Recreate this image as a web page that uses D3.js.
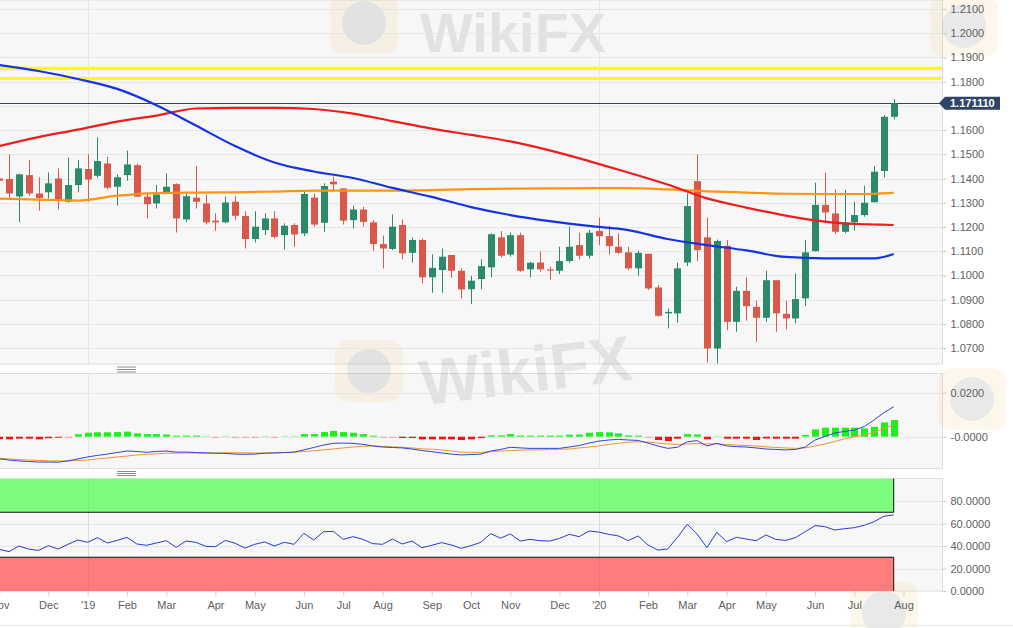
<!DOCTYPE html>
<html><head><meta charset="utf-8">
<script src="https://cdn.jsdelivr.net/npm/d3@7"></script>
<style>
html,body{margin:0;padding:0;background:#fff;}
svg{display:block;font-family:"Liberation Sans",Arial,Helvetica,sans-serif;}
</style></head><body>
<svg id="chart" width="1013" height="628"></svg>
<script>
// ---------------- DATA ----------------
const firstWeek = "2018-10-28";   // weekly candles (week start dates)
const open = [1.1400,1.1398,1.1326,1.1414,1.1338,1.1343,1.1400,1.1304,1.1373,1.1439,
1.1411,1.1462,1.1366,1.1414,1.1455,1.1325,1.1297,1.1343,1.1377,1.1231,
1.1321,1.1297,1.1226,1.1219,1.1304,1.1245,1.1150,1.1187,1.1235,1.1166,
1.1208,1.1173,1.1321,1.1217,1.1387,1.1359,1.1228,1.1272,1.1219,1.1129,
1.1109,1.1208,1.1093,1.1146,1.0992,1.1022,1.1084,1.1019,1.0943,1.0985,
1.1033,1.1157,1.1086,1.1166,1.1025,1.1053,1.1025,1.1019,1.1059,1.1125,
1.1081,1.1183,1.1162,1.1118,1.1095,1.1029,1.1089,1.0950,1.0843,1.0843,
1.1053,1.1389,1.1157,1.0698,1.1122,1.0808,1.0936,1.0870,1.0825,1.0980,
1.0841,1.0822,1.0905,1.1100,1.1291,1.1256,1.1180,1.1219,1.1249,1.1302,
1.1431,1.1655];
const high = [1.1410,1.1500,1.1420,1.1476,1.1405,1.1425,1.1442,1.1487,1.1476,1.1500,
1.1570,1.1490,1.1417,1.1515,1.1462,1.1343,1.1373,1.1421,1.1380,1.1345,
1.1451,1.1334,1.1256,1.1325,1.1327,1.1265,1.1265,1.1256,1.1265,1.1215,
1.1215,1.1345,1.1338,1.1380,1.1407,1.1359,1.1288,1.1283,1.1228,1.1164,
1.1252,1.1231,1.1157,1.1153,1.1087,1.1111,1.1084,1.1029,1.0998,1.1066,
1.1173,1.1183,1.1176,1.1176,1.1056,1.1098,1.1036,1.1118,1.1201,1.1176,
1.1187,1.1239,1.1204,1.1173,1.1118,1.1102,1.1089,1.0960,1.0863,1.1053,
1.1338,1.1500,1.1239,1.1148,1.1146,1.0953,1.0992,1.0895,1.1019,1.0980,
1.0895,1.1008,1.1146,1.1383,1.1424,1.1356,1.1353,1.1304,1.1370,1.1451,
1.1662,1.1727];
const low = [1.1385,1.1321,1.1219,1.1329,1.1267,1.1318,1.1272,1.1300,1.1343,1.1304,
1.1403,1.1355,1.1288,1.1391,1.1325,1.1235,1.1276,1.1338,1.1177,1.1221,
1.1276,1.1210,1.1184,1.1215,1.1228,1.1111,1.1136,1.1166,1.1153,1.1107,
1.1118,1.1162,1.1201,1.1180,1.1352,1.1210,1.1194,1.1201,1.1102,1.1029,
1.1104,1.1066,1.1053,1.0967,1.0928,1.0928,1.0990,1.0905,1.0881,1.0943,
1.0992,1.1073,1.1077,1.1015,1.0992,1.1015,1.0983,1.1005,1.1052,1.1066,
1.1070,1.1125,1.1087,1.1088,1.1022,1.0998,1.0939,1.0829,1.0781,1.0804,
1.1038,1.1059,1.0640,1.0636,1.0774,1.0767,1.0813,1.0726,1.0808,1.0767,
1.0777,1.0802,1.0873,1.1098,1.1215,1.1171,1.1174,1.1185,1.1242,1.1301,
1.1405,1.1644];
const close = [1.1391,1.1338,1.1417,1.1338,1.1319,1.1380,1.1311,1.1373,1.1442,1.1396,
1.1472,1.1362,1.1405,1.1458,1.1325,1.1294,1.1334,1.1366,1.1235,1.1327,
1.1304,1.1219,1.1219,1.1301,1.1246,1.1150,1.1201,1.1235,1.1159,1.1205,
1.1169,1.1336,1.1210,1.1369,1.1376,1.1226,1.1272,1.1221,1.1129,1.1111,
1.1201,1.1091,1.1146,1.0992,1.1031,1.1077,1.1019,1.0942,1.0978,1.1038,
1.1170,1.1081,1.1166,1.1019,1.1052,1.1025,1.1021,1.1059,1.1118,1.1081,
1.1176,1.1162,1.1121,1.1093,1.1029,1.1093,1.0946,1.0833,1.0849,1.1029,
1.1286,1.1104,1.0698,1.1142,1.0808,1.0936,1.0873,1.0825,1.0980,1.0843,
1.0822,1.0902,1.1095,1.1291,1.1260,1.1180,1.1218,1.1249,1.1300,1.1428,
1.1655,1.1711];

// moving averages, read at these candle positions
const maIndex  = [0,4,8,12,16,20,24,28,32,36,40,44,48,52,56,60,64,68,72,76,80,84,88,89,91];
const maBlue   = [1.1869,1.1844,1.1811,1.1770,1.1703,1.1619,1.1534,1.1466,1.1429,1.1402,1.1361,1.1324,1.1282,1.1249,1.1224,1.1204,1.1187,1.1150,1.1125,1.1103,1.1076,1.1070,1.1070,1.1070,1.1088];
const maRed    = [1.1534,1.1571,1.1602,1.1635,1.1660,1.1689,1.1692,1.1692,1.1687,1.1668,1.1637,1.1606,1.1580,1.1553,1.1516,1.1472,1.1425,1.1375,1.1318,1.1280,1.1247,1.1222,1.1211,1.1210,1.1208];
const maOrange = [1.1317,1.1313,1.1309,1.1329,1.1340,1.1342,1.1343,1.1346,1.1350,1.1350,1.1350,1.1352,1.1356,1.1358,1.1359,1.1360,1.1360,1.1355,1.1347,1.1342,1.1337,1.1336,1.1336,1.1337,1.1341];

const resistance = [1.1855, 1.1813];
const lastPrice = 1.171110;

const macd = [-0.0101,-0.0106,-0.0110,-0.0113,-0.0115,-0.0115,-0.0116,-0.0110,-0.0101,-0.0092,
-0.0085,-0.0079,-0.0072,-0.0065,-0.0067,-0.0071,-0.0067,-0.0065,-0.0070,-0.0070,
-0.0072,-0.0074,-0.0075,-0.0076,-0.0079,-0.0080,-0.0079,-0.0075,-0.0074,-0.0072,
-0.0070,-0.0060,-0.0049,-0.0038,-0.0030,-0.0029,-0.0030,-0.0035,-0.0042,-0.0047,
-0.0049,-0.0051,-0.0056,-0.0063,-0.0068,-0.0074,-0.0079,-0.0083,-0.0081,-0.0079,
-0.0065,-0.0058,-0.0048,-0.0051,-0.0053,-0.0053,-0.0053,-0.0053,-0.0047,-0.0040,
-0.0029,-0.0020,-0.0015,-0.0012,-0.0015,-0.0017,-0.0029,-0.0042,-0.0053,-0.0048,
-0.0023,-0.0018,-0.0042,-0.0030,-0.0042,-0.0045,-0.0047,-0.0051,-0.0056,-0.0058,
-0.0060,-0.0058,-0.0047,-0.0015,0.0001,0.0017,0.0024,0.0030,0.0046,0.0076,
0.0109,0.0136];
const signal = [-0.0098,-0.0101,-0.0104,-0.0106,-0.0108,-0.0110,-0.0110,-0.0110,-0.0108,-0.0106,
-0.0101,-0.0097,-0.0092,-0.0088,-0.0083,-0.0080,-0.0078,-0.0075,-0.0075,-0.0074,
-0.0074,-0.0074,-0.0074,-0.0073,-0.0073,-0.0073,-0.0074,-0.0074,-0.0073,-0.0072,
-0.0070,-0.0067,-0.0064,-0.0060,-0.0056,-0.0051,-0.0047,-0.0044,-0.0042,-0.0044,
-0.0046,-0.0048,-0.0051,-0.0055,-0.0057,-0.0060,-0.0065,-0.0070,-0.0071,-0.0071,
-0.0069,-0.0065,-0.0063,-0.0061,-0.0060,-0.0060,-0.0058,-0.0057,-0.0056,-0.0051,
-0.0047,-0.0042,-0.0035,-0.0030,-0.0025,-0.0023,-0.0024,-0.0029,-0.0033,-0.0035,
-0.0033,-0.0031,-0.0033,-0.0033,-0.0035,-0.0038,-0.0040,-0.0042,-0.0046,-0.0049,
-0.0051,-0.0053,-0.0051,-0.0042,-0.0033,-0.0022,-0.0010,-0.0001,0.0008,0.0021,
0.0037,0.0053];
const histogram = [-0.0011,-0.0012,-0.0009,-0.0009,-0.0012,-0.0007,-0.0004,-0.0001,0.0011,0.0018,
0.0020,0.0020,0.0021,0.0023,0.0015,0.0012,0.0012,0.0010,0.0003,0.0005,
0.0005,0.0001,-0.0001,0.0001,-0.0001,-0.0001,-0.0001,0.0001,-0.0001,0.0001,
0.0001,0.0012,0.0012,0.0021,0.0026,0.0021,0.0018,0.0012,0.0003,-0.0001,
-0.0001,-0.0006,-0.0006,-0.0012,-0.0012,-0.0012,-0.0012,-0.0015,-0.0012,-0.0006,
0.0006,0.0006,0.0012,0.0005,0.0005,0.0005,0.0005,0.0005,0.0009,0.0010,
0.0018,0.0021,0.0020,0.0015,0.0006,0.0005,-0.0001,-0.0015,-0.0020,-0.0009,
0.0012,0.0010,-0.0012,0.0001,-0.0009,-0.0009,-0.0009,-0.0015,-0.0008,-0.0009,
-0.0009,-0.0009,0.0008,0.0033,0.0041,0.0041,0.0041,0.0041,0.0038,0.0045,
0.0065,0.0076];
const rsi = [37.0,35.0,40.0,37.3,36.1,40.3,37.3,41.5,45.3,43.3,
47.4,42.7,45.0,47.7,41.8,40.6,42.7,44.7,38.8,44.4,
43.3,39.7,39.4,45.0,42.4,38.2,41.5,43.6,40.0,43.3,
41.5,51.3,45.3,52.7,53.0,45.9,48.3,45.9,42.1,41.5,
46.2,41.8,44.4,38.5,40.6,43.0,40.9,37.9,40.3,43.3,
51.0,47.0,50.7,44.4,45.9,44.7,44.4,46.8,50.4,48.3,
53.3,52.4,50.4,48.9,44.7,48.9,40.9,36.4,37.3,47.7,
59.3,50.7,38.5,52.1,43.9,47.7,46.2,44.7,49.8,45.9,
45.0,47.4,52.7,58.1,57.2,54.2,55.4,56.3,58.4,61.6,
66.4,67.6];
const rsiOverbought = 70, rsiOversold = 30, rsiMax = 100;

const priceTicks = [1.07,1.08,1.09,1.10,1.11,1.12,1.13,1.14,1.15,1.16,1.17,1.18,1.19,1.20,1.21];
const macdTicks = [0, 0.02];
const rsiTicks = [0, 20, 40, 60, 80];
const monthTickDates = ["2018-10-28","2018-12-02","2018-12-30","2019-01-27","2019-02-24","2019-03-31","2019-04-28","2019-06-02","2019-06-30","2019-07-28","2019-09-01","2019-09-29","2019-10-27","2019-12-01","2019-12-29","2020-02-02","2020-03-01","2020-03-29","2020-04-26","2020-05-31","2020-06-28","2020-08-02"];
const monthTickLabels = ["Nov","Dec","'19","Feb","Mar","Apr","May","Jun","Jul","Aug","Sep","Oct","Nov","Dec","'20","Feb","Mar","Apr","May","Jun","Jul","Aug"];
const yearTickLabels = ["'19","'20"];

// ---------------- LAYOUT ----------------
const svg = d3.select("#chart");
const parse = d3.utcParse("%Y-%m-%d");
const start = parse(firstWeek);
const weeks = open.map((_, i) => d3.utcWeek.offset(start, i));
const tickDates = monthTickDates.map(parse);
const yearDates = tickDates.filter((d, i) => yearTickLabels.includes(monthTickLabels[i]));

const plotR = 942;
const P = {
  main: {top: 0, bottom: 364},
  macd: {top: 373.5, bottom: 468.5},
  rsi:  {top: 478.5, bottom: 591}
};

const x = d3.scaleUtc().domain([weeks[0], weeks[weeks.length - 1]]).range([-0.8, 893.7]);
const yMain = d3.scaleLinear().domain([1.07, 1.21]).range([348, 9]);
const yMacd = d3.scaleLinear().domain([0, 0.02]).range([436.7, 392.7]);
const yRsi = d3.scaleLinear().domain([0, 80]).range([591, 501]);

const GRID = "#e6e6e6", BG = "#f7f7f7", BORDER = "#dcdcdc", TXT = "#606060";
const UP = "#2b8a6a", DOWN = "#d9584a";

const defs = svg.append("defs");
Object.entries(P).forEach(([k, p]) => {
  defs.append("clipPath").attr("id", "clip-" + k)
    .append("rect").attr("x", 0).attr("y", p.top).attr("width", plotR).attr("height", p.bottom - p.top);
});

// panel backgrounds
Object.values(P).forEach(p => {
  svg.append("rect").attr("x", -1).attr("y", p.top).attr("width", plotR + 1.5).attr("height", p.bottom - p.top)
    .attr("fill", BG).attr("stroke", BORDER).attr("stroke-width", 1);
});

// watermarks (faint)
const wm = svg.append("g").attr("opacity", 0.12).attr("pointer-events", "none");
[[330, -8], [335, 340], [930, -5], [938, 368], [850, 582]].forEach(([wx, wy]) => {
  wm.append("rect").attr("x", wx).attr("y", wy).attr("width", 68).attr("height", 62).attr("rx", 14)
    .attr("fill", "#e8c65a");
  wm.append("circle").attr("cx", wx + 34).attr("cy", wy + 31).attr("r", 22).attr("fill", "#555");
});
wm.append("text").attr("x", 420).attr("y", 52).attr("font-size", 56).attr("font-weight", "bold")
  .attr("fill", "#555").text("WikiFX");
wm.append("text").attr("x", 418).attr("y", 392).attr("font-size", 64).attr("font-weight", "bold")
  .attr("fill", "#555").attr("transform", "rotate(-7,530,360)").text("WikiFX");

// panel groups with grids
function panelGroup(key, scale, ticks) {
  const p = P[key];
  const g = svg.append("g").attr("clip-path", `url(#clip-${key})`);
  g.selectAll("line.hgrid").data(ticks).join("line").attr("class", "hgrid")
    .attr("x1", 0).attr("x2", plotR)
    .attr("y1", d => Math.round(scale(d)) + 0.5).attr("y2", d => Math.round(scale(d)) + 0.5)
    .attr("stroke", GRID);
  g.selectAll("line.vgrid").data(yearDates).join("line").attr("class", "vgrid")
    .attr("x1", d => Math.round(x(d)) + 0.5).attr("x2", d => Math.round(x(d)) + 0.5)
    .attr("y1", p.top).attr("y2", p.bottom).attr("stroke", GRID);
  return g;
}
const gMain = panelGroup("main", yMain, priceTicks);
const gMacd = panelGroup("macd", yMacd, macdTicks);
const gRsi = panelGroup("rsi", yRsi, rsiTicks);

// ---------------- MAIN PANEL ----------------
gMain.selectAll("line.res").data(resistance).join("line").attr("class", "res")
  .attr("x1", 0).attr("x2", plotR).attr("y1", d => yMain(d)).attr("y2", d => yMain(d))
  .attr("stroke", "#ffff00").attr("stroke-width", 3.2);
gMain.append("line").attr("x1", 0).attr("x2", plotR)
  .attr("y1", Math.round(yMain(lastPrice)) + 0.5).attr("y2", Math.round(yMain(lastPrice)) + 0.5)
  .attr("stroke", "#2c4263").attr("stroke-width", 1);

const candles = weeks.map((d, i) => ({d, o: open[i], h: high[i], l: low[i], c: close[i]}));
const cw = 7;
const cg = gMain.append("g");
cg.selectAll("line.wick").data(candles).join("line").attr("class", "wick")
  .attr("x1", d => Math.round(x(d.d)) + 0.5).attr("x2", d => Math.round(x(d.d)) + 0.5)
  .attr("y1", d => yMain(d.h)).attr("y2", d => yMain(d.l))
  .attr("stroke", d => d.c >= d.o ? UP : DOWN).attr("stroke-width", 1);
cg.selectAll("rect.body").data(candles).join("rect").attr("class", "body")
  .attr("x", d => Math.round(x(d.d)) + 0.5 - cw / 2)
  .attr("width", cw)
  .attr("y", d => yMain(Math.max(d.o, d.c)))
  .attr("height", d => Math.max(1.2, Math.abs(yMain(d.o) - yMain(d.c))))
  .attr("fill", d => d.c >= d.o ? UP : DOWN);

const maLine = d3.line().x(d => x(weeks[d[0]])).y(d => yMain(d[1])).curve(d3.curveMonotoneX);
[[maOrange, "#ff9414"], [maRed, "#ee1c1c"], [maBlue, "#1533e0"]].forEach(([vals, col]) => {
  gMain.append("path").datum(maIndex.map((k, i) => [k, vals[i]]))
    .attr("d", maLine).attr("fill", "none").attr("stroke", col).attr("stroke-width", 2.2);
});

// ---------------- MACD PANEL ----------------
const zeroY = yMacd(0);
gMacd.selectAll("rect.hist").data(histogram).join("rect").attr("class", "hist")
  .attr("x", (d, i) => Math.round(x(weeks[i])) + 0.5 - 3.5)
  .attr("width", 7)
  .attr("y", d => d >= 0 ? Math.min(yMacd(d), zeroY - 1) : zeroY)
  .attr("height", d => Math.max(1, Math.abs(yMacd(d) - zeroY)))
  .attr("fill", d => d >= 0 ? "#1ef01e" : "#f01414")
  .attr("opacity", d => Math.abs(d) < 0.00015 ? 0.35 : 1);
const lineM = d3.line().x((d, i) => x(weeks[i])).y(d => yMacd(d));
gMacd.append("path").datum(signal).attr("d", lineM).attr("fill", "none").attr("stroke", "#f39237").attr("stroke-width", 1);
gMacd.append("path").datum(macd).attr("d", lineM).attr("fill", "none").attr("stroke", "#2d44d4").attr("stroke-width", 1);

// ---------------- RSI PANEL ----------------
const bandR = x(weeks[weeks.length - 1]);
gRsi.append("rect").attr("x", 0).attr("width", bandR).attr("y", yRsi(rsiMax))
  .attr("height", yRsi(rsiOverbought) - yRsi(rsiMax)).attr("fill", "#7dfc7d");
gRsi.append("rect").attr("x", 0).attr("width", bandR).attr("y", yRsi(rsiOversold))
  .attr("height", yRsi(0) - yRsi(rsiOversold)).attr("fill", "#fe7c7c");
gRsi.selectAll("line.vgrid2").data(yearDates).join("line").attr("class", "vgrid2")
  .attr("x1", d => Math.round(x(d)) + 0.5).attr("x2", d => Math.round(x(d)) + 0.5)
  .attr("y1", P.rsi.top).attr("y2", P.rsi.bottom).attr("stroke", "#000").attr("stroke-opacity", 0.05);
[rsiOverbought, rsiOversold].forEach(v => {
  gRsi.append("line").attr("x1", 0).attr("x2", bandR).attr("y1", yRsi(v)).attr("y2", yRsi(v))
    .attr("stroke", "#111").attr("stroke-width", 1);
});
gRsi.append("line").attr("x1", bandR).attr("x2", bandR).attr("y1", yRsi(rsiMax)).attr("y2", yRsi(rsiOverbought)).attr("stroke", "#111");
gRsi.append("line").attr("x1", bandR).attr("x2", bandR).attr("y1", yRsi(rsiOversold)).attr("y2", yRsi(0)).attr("stroke", "#111");
gRsi.append("path").datum(rsi)
  .attr("d", d3.line().x((d, i) => x(weeks[i])).y(d => yRsi(d)))
  .attr("fill", "none").attr("stroke", "#2a3bd0").attr("stroke-width", 1);

// panel separators (drag handles)
[[367, 369.5, 372], [471.5, 473.5, 475.5]].forEach(ys => {
  ys.forEach(yy => svg.append("line").attr("x1", 117).attr("x2", 136).attr("y1", yy).attr("y2", yy)
    .attr("stroke", "#8a8a8a").attr("stroke-width", 1));
});

// ---------------- AXES ----------------
function styleAxis(g) {
  g.select(".domain").remove();
  g.selectAll(".tick line").attr("stroke", "#c8c8c8");
  g.selectAll(".tick text").attr("fill", TXT).attr("font-size", 11)
    .attr("font-family", '"Liberation Sans",Arial,sans-serif');
}
const priceAxisTicks = priceTicks.filter(t => Math.abs(yMain(t) - yMain(lastPrice)) > 9);
svg.append("g").attr("transform", `translate(${plotR + 0.5},0)`)
  .call(d3.axisRight(yMain).tickValues(priceAxisTicks).tickFormat(d3.format(".4f")).tickSize(4).tickPadding(4))
  .call(styleAxis);
svg.append("g").attr("transform", `translate(${plotR + 0.5},0)`)
  .call(d3.axisRight(yMacd).tickValues(macdTicks).tickFormat(d => d === 0 ? "-0.0000" : d3.format(".4f")(d)).tickSize(4).tickPadding(4))
  .call(styleAxis);
svg.append("g").attr("transform", `translate(${plotR + 0.5},0)`)
  .call(d3.axisRight(yRsi).tickValues(rsiTicks).tickFormat(d3.format(".4f")).tickSize(4).tickPadding(4))
  .call(styleAxis);

svg.append("g").attr("transform", `translate(0,${P.rsi.bottom + 0.5})`)
  .call(d3.axisBottom(x).tickValues(tickDates).tickFormat((d, i) => monthTickLabels[i]).tickSize(4).tickPadding(6))
  .call(styleAxis);

svg.append("line").attr("x1", 0).attr("x2", 1013).attr("y1", 625.5).attr("y2", 625.5).attr("stroke", "#e8e8e8");

// current price label
const py = yMain(lastPrice);
const lbl = svg.append("g");
lbl.append("path")
  .attr("d", `M${plotR - 3},${py} L${plotR + 3},${py - 6.5} L1000,${py - 6.5} L1000,${py + 6.5} L${plotR + 3},${py + 6.5} Z`)
  .attr("fill", "#2f4565");
lbl.append("text").attr("x", 950).attr("y", py).attr("dy", "0.35em")
  .attr("fill", "#fff").attr("font-size", 11).attr("font-weight", "bold")
  .text(d3.format(".6f")(lastPrice));
</script>
</body></html>
